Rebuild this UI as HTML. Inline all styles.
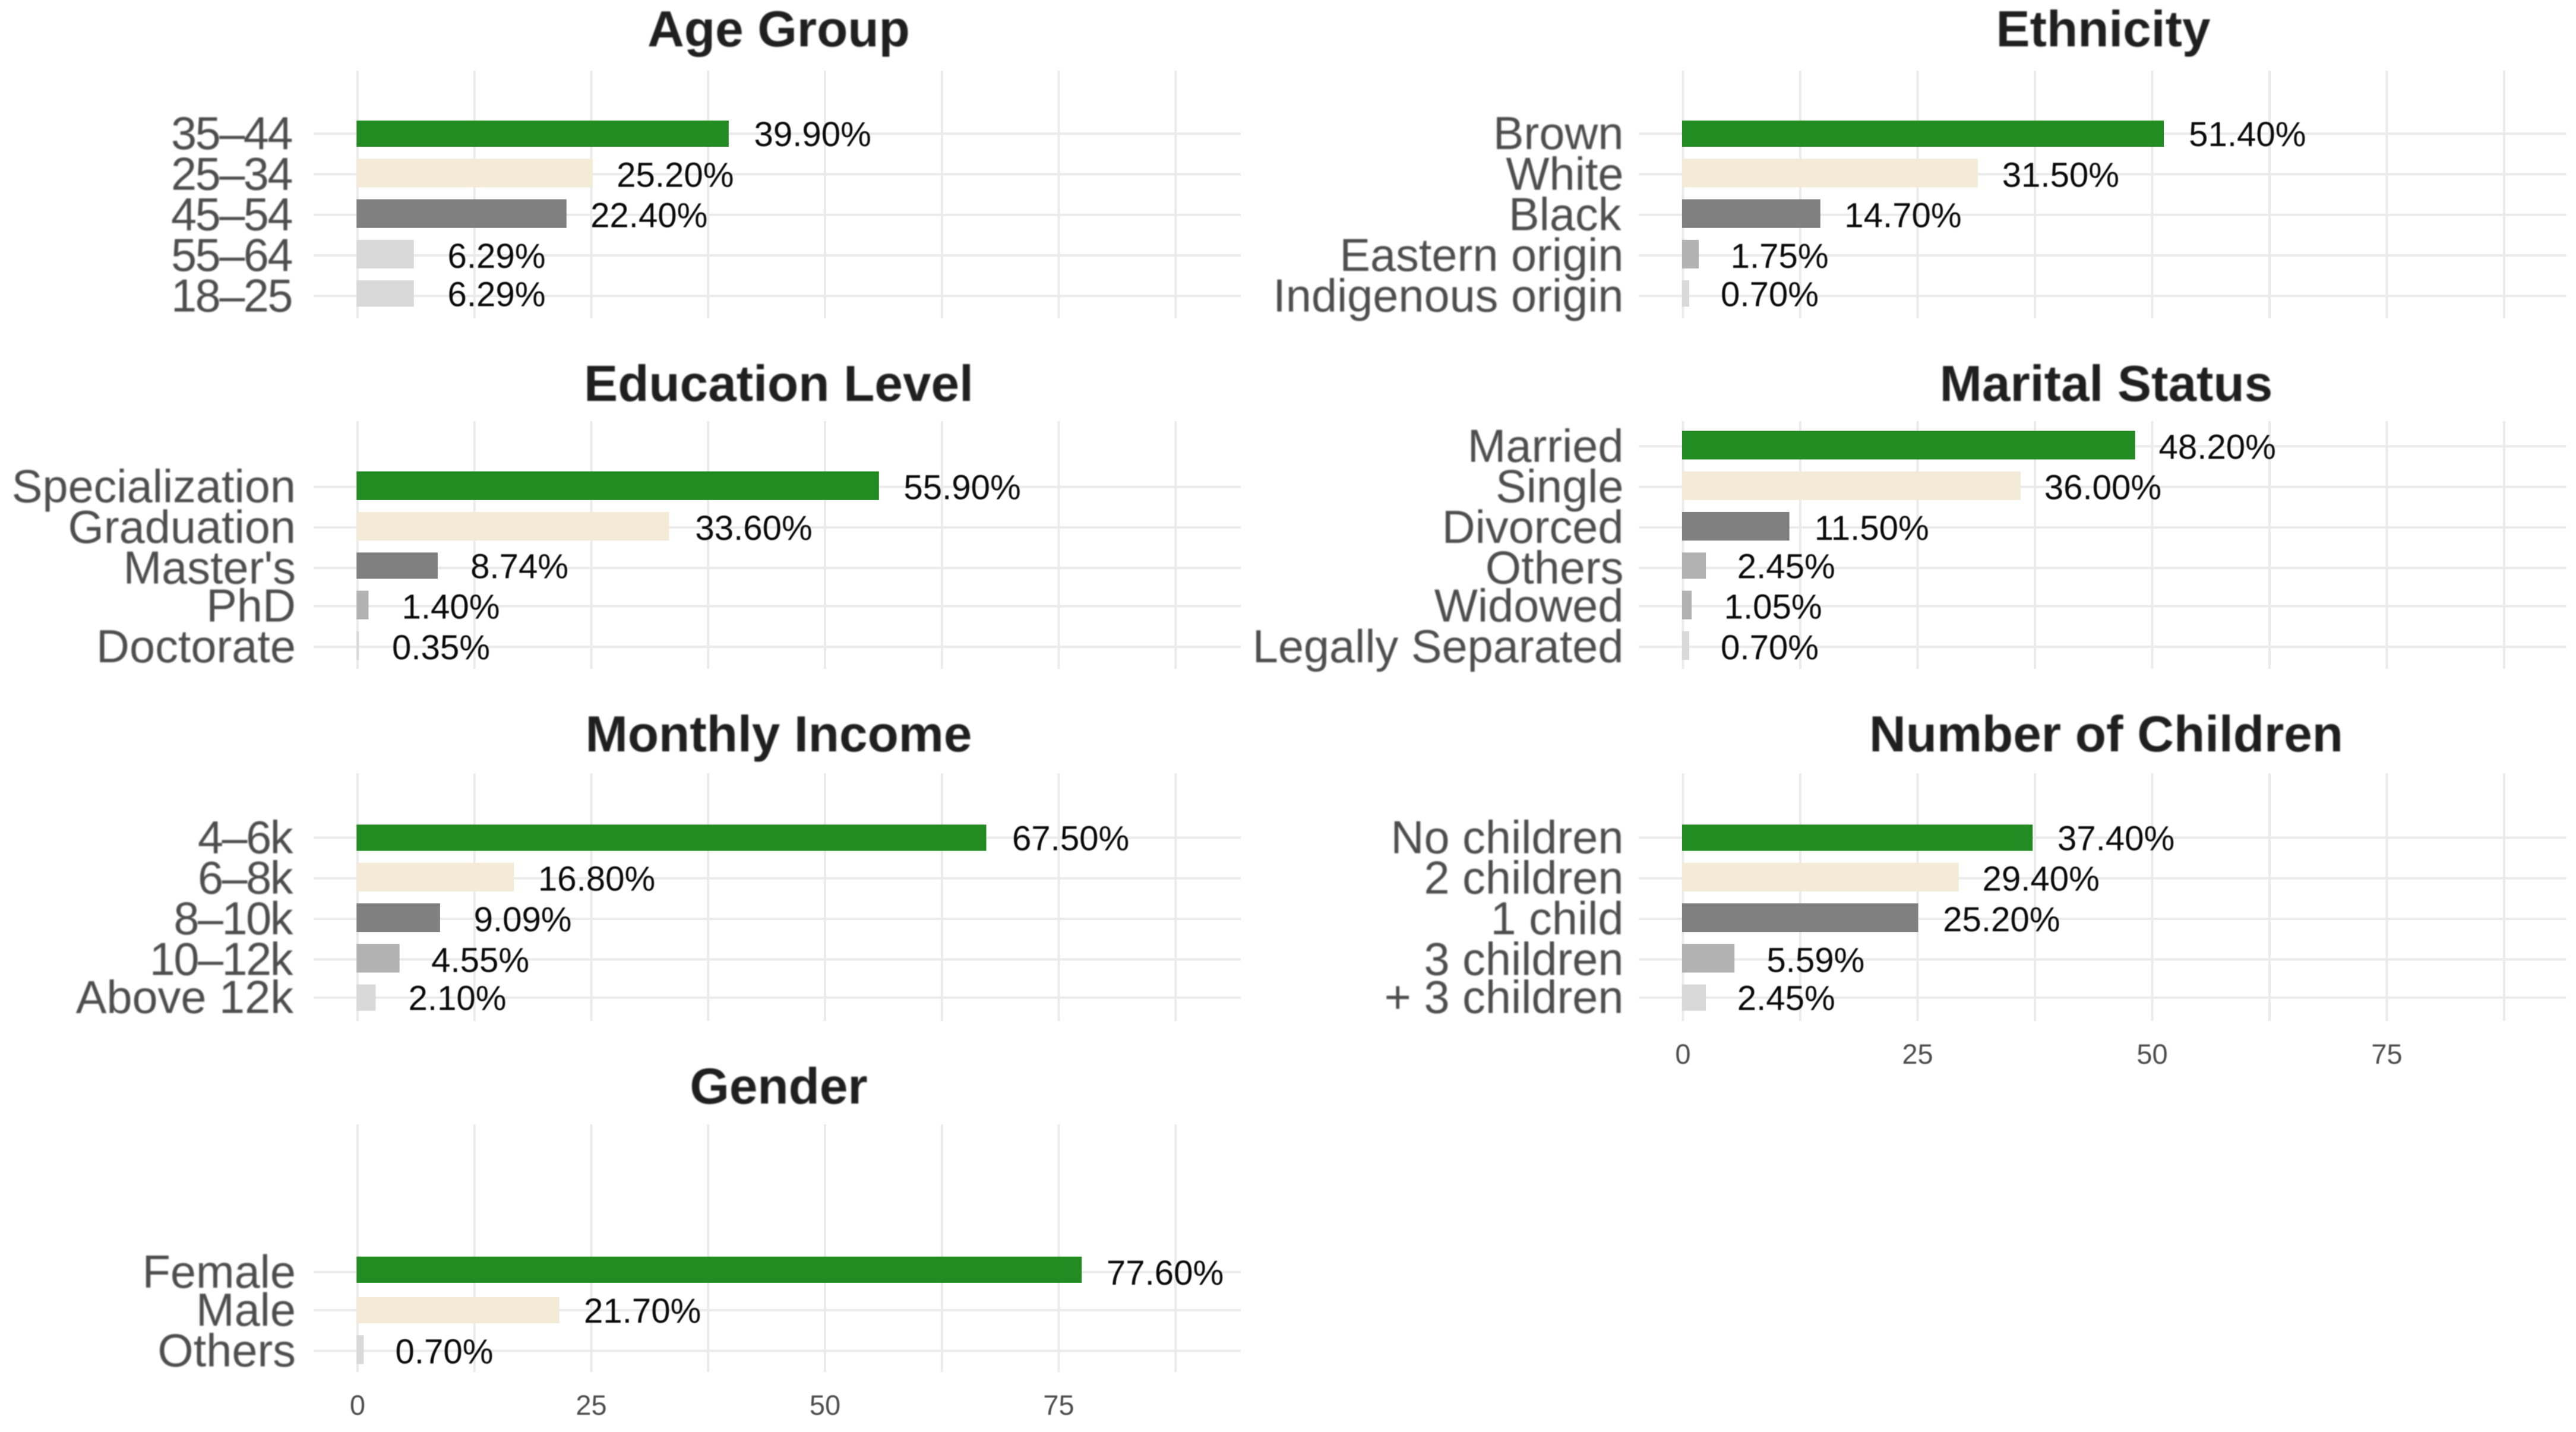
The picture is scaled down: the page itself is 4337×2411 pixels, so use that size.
<!DOCTYPE html>
<html lang="en">
<head>
<meta charset="utf-8">
<title>Sociodemographic profile bar charts</title>
<style>
  html, body { margin: 0; padding: 0; background: #ffffff; }
  svg { display: block; }
  text { font-family: "Liberation Sans", sans-serif; }
  .title { font-size: 85.5px; font-weight: 700; fill: #1f1f1f; text-anchor: middle; filter: blur(1px); }
  .cat { font-size: 77.5px; fill: #4d4d4d; text-anchor: end; filter: blur(1px); }
  .cat-range { letter-spacing: -2.5px; }
  .val { font-size: 58.2px; fill: #0a0a0a; filter: blur(0.9px); }
  .tick { font-size: 47px; fill: #4d4d4d; text-anchor: middle; filter: blur(0.9px); }
</style>
</head>
<body>
<svg id="chart" xmlns="http://www.w3.org/2000/svg" width="4337" height="2411" viewBox="0 0 4337 2411">
  <rect x="0" y="0" width="4337" height="2411" fill="#ffffff"/>
  <g id="panel-age">
    <text class="title" x="1311" y="78">Age Group</text>
  </g>
  <g id="panel-ethnicity">
    <text class="title" x="3541" y="78">Ethnicity</text>
  </g>
  <g id="panel-education">
    <text class="title" x="1311" y="675">Education Level</text>
  </g>
  <g id="panel-marital">
    <text class="title" x="3546" y="675">Marital Status</text>
  </g>
  <g id="panel-income">
    <text class="title" x="1311" y="1265">Monthly Income</text>
  </g>
  <g id="panel-children">
    <text class="title" x="3546" y="1265">Number of Children</text>
  </g>
  <g id="panel-gender">
    <text class="title" x="1311" y="1858">Gender</text>
  </g>
</svg>
<script>
// ---- data ----
const ageCategories = ["35–44", "25–34", "45–54", "55–64", "18–25"];
const ageValues = [39.9, 25.2, 22.4, 6.29, 6.29];
const ageTiers = [1, 2, 3, 5, 5];

const ethnicityCategories = ["Brown", "White", "Black", "Eastern origin", "Indigenous origin"];
const ethnicityValues = [51.4, 31.5, 14.7, 1.75, 0.7];
const ethnicityTiers = [1, 2, 3, 4, 5];

const educationCategories = ["Specialization", "Graduation", "Master's", "PhD", "Doctorate"];
const educationValues = [55.9, 33.6, 8.74, 1.4, 0.35];
const educationTiers = [1, 2, 3, 4, 5];

const maritalCategories = ["Married", "Single", "Divorced", "Others", "Widowed", "Legally Separated"];
const maritalValues = [48.2, 36.0, 11.5, 2.45, 1.05, 0.7];
const maritalTiers = [1, 2, 3, 4, 4, 5];

const incomeCategories = ["4–6k", "6–8k", "8–10k", "10–12k", "Above 12k"];
const incomeValues = [67.5, 16.8, 9.09, 4.55, 2.1];
const incomeTiers = [1, 2, 3, 4, 5];

const childrenCategories = ["No children", "2 children", "1 child", "3 children", "+ 3 children"];
const childrenValues = [37.4, 29.4, 25.2, 5.59, 2.45];
const childrenTiers = [1, 2, 3, 4, 5];

const genderCategories = ["Female", "Male", "Others"];
const genderValues = [77.6, 21.7, 0.7];
const genderTiers = [1, 2, 5];

const xTickLabels = [0, 25, 50, 75];
const xGridBreaks = [0, 12.5, 25, 37.5, 50, 62.5, 75, 87.5];

// ---- layout ----
const SVG_NS = "http://www.w3.org/2000/svg";
const SX = 4337 / 1080;           // reference was upscaled from a 1080x600 raster
const SY = 2411 / 600;
const LEVELS = 6;                 // every panel shares a six-level y axis
const ROW_STEP = 16.76;
const BAR_HALF = 0.35 * ROW_STEP;
const GRID_LEFT = 74;
const GRID_RIGHT = 1487;
const PANEL_HEIGHT = 417;
const COLUMNS = {
  left: { x0: 602, unit: 15.74, phase: 0.5, barBias: -0.5, catGap: 104 },
  right: { x0: 2833.5, unit: 15.8, phase: 0.2, barBias: 0, catGap: 100 }
};
const tierFill = { 1: "#228B22", 2: "#F3EBD7", 3: "#808080", 4: "#B2B2B2", 5: "#D9D9D9" };

function xScale(col, value) {
  return COLUMNS[col].x0 + value * COLUMNS[col].unit;
}
function snapBarX(col, px) {
  const phase = COLUMNS[col].phase;
  return (Math.floor((px + COLUMNS[col].barBias) / SX - phase) + phase) * SX;
}
function rowScale(firstRow, level) {
  return firstRow + level * ROW_STEP;
}
function percentLabel(value) {
  return value.toFixed(2) + "%";
}
function labelOffset(text) {
  return text.length >= 6 ? 39.5 : 52.5;
}
function catShift(text) {
  if (text.indexOf("–") >= 0) return -7;
  return /[0-9k]$/.test(text) ? -4 : 0;
}
function create(tag, parent, attrs, text) {
  const el = document.createElementNS(SVG_NS, tag);
  for (const key in attrs) el.setAttribute(key, attrs[key]);
  if (text !== undefined) el.textContent = text;
  parent.appendChild(el);
  return el;
}

function drawPanel(id, slug, col, top, firstRow, categories, values, tiers, showAxis) {
  const root = document.getElementById(id);
  const title = root.querySelector("text");
  const x0 = COLUMNS[col].x0;
  const firstLevel = LEVELS - categories.length;

  const gridGroup = create("g", root, { fill: "#ebebeb" });
  
  
  xGridBreaks.forEach(function (brk) {
    const line = create("rect", gridGroup, { x: xScale(col, brk) - 2, y: top, width: 4, height: PANEL_HEIGHT });
    
    
  });

  categories.forEach(function (cat, i) {
    const yc = rowScale(firstRow, firstLevel + i);
    const lineY = Math.round(yc) * SY;
    const line = create("rect", gridGroup, { x: x0 - GRID_LEFT, y: lineY - 2, width: GRID_LEFT + GRID_RIGHT, height: 4 });
    
    
  });

  categories.forEach(function (cat, i) {
    const yc = rowScale(firstRow, firstLevel + i);
    const lineY = Math.round(yc) * SY;
    const labelY = Math.floor(yc + 0.4) * SY;
    const barTop = (Math.round(yc - BAR_HALF) - 0.5) * SY;
    const barBottom = (Math.round(yc + BAR_HALF) - 0.5) * SY;
    const barLeft = snapBarX(col, xScale(col, 0) + 2);
    const barRight = Math.max(snapBarX(col, xScale(col, values[i])), barLeft + 3);

    const bar = create("rect", root, {
      x: barLeft, y: barTop, width: barRight - barLeft, height: barBottom - barTop,
      fill: tierFill[tiers[i]]
    });
    
    

    const catClass = cat.indexOf("–") >= 0 ? "cat cat-range" : "cat";
    const catLabel = create("text", root, { "class": catClass, x: x0 - COLUMNS[col].catGap + catShift(cat), y: lineY + 26 }, cat);
    
    

    const printed = percentLabel(values[i]);
    const valLabel = create("text", root, {
      "class": "val", x: xScale(col, values[i]) + labelOffset(printed), y: labelY + 21
    }, printed);
    
    
  });

  if (showAxis) {
    xTickLabels.forEach(function (tick) {
      const tickLabel = create("text", root, { "class": "tick", x: xScale(col, tick), y: top + PANEL_HEIGHT + 72 }, String(tick));
      
      
    });
  }
  root.appendChild(title);
}

drawPanel("panel-age", "age-group", "left", 119, 39.72, ageCategories, ageValues, ageTiers, false);
drawPanel("panel-ethnicity", "ethnicity", "right", 119, 39.72, ethnicityCategories, ethnicityValues, ethnicityTiers, false);
drawPanel("panel-education", "education-level", "left", 709, 187.3, educationCategories, educationValues, educationTiers, false);
drawPanel("panel-marital", "marital-status", "right", 709, 187.3, maritalCategories, maritalValues, maritalTiers, false);
drawPanel("panel-income", "monthly-income", "left", 1302, 334.65, incomeCategories, incomeValues, incomeTiers, false);
drawPanel("panel-children", "number-of-children", "right", 1302, 334.65, childrenCategories, childrenValues, childrenTiers, true);
drawPanel("panel-gender", "gender", "left", 1893, 482.35, genderCategories, genderValues, genderTiers, true);
</script>
</body>
</html>
